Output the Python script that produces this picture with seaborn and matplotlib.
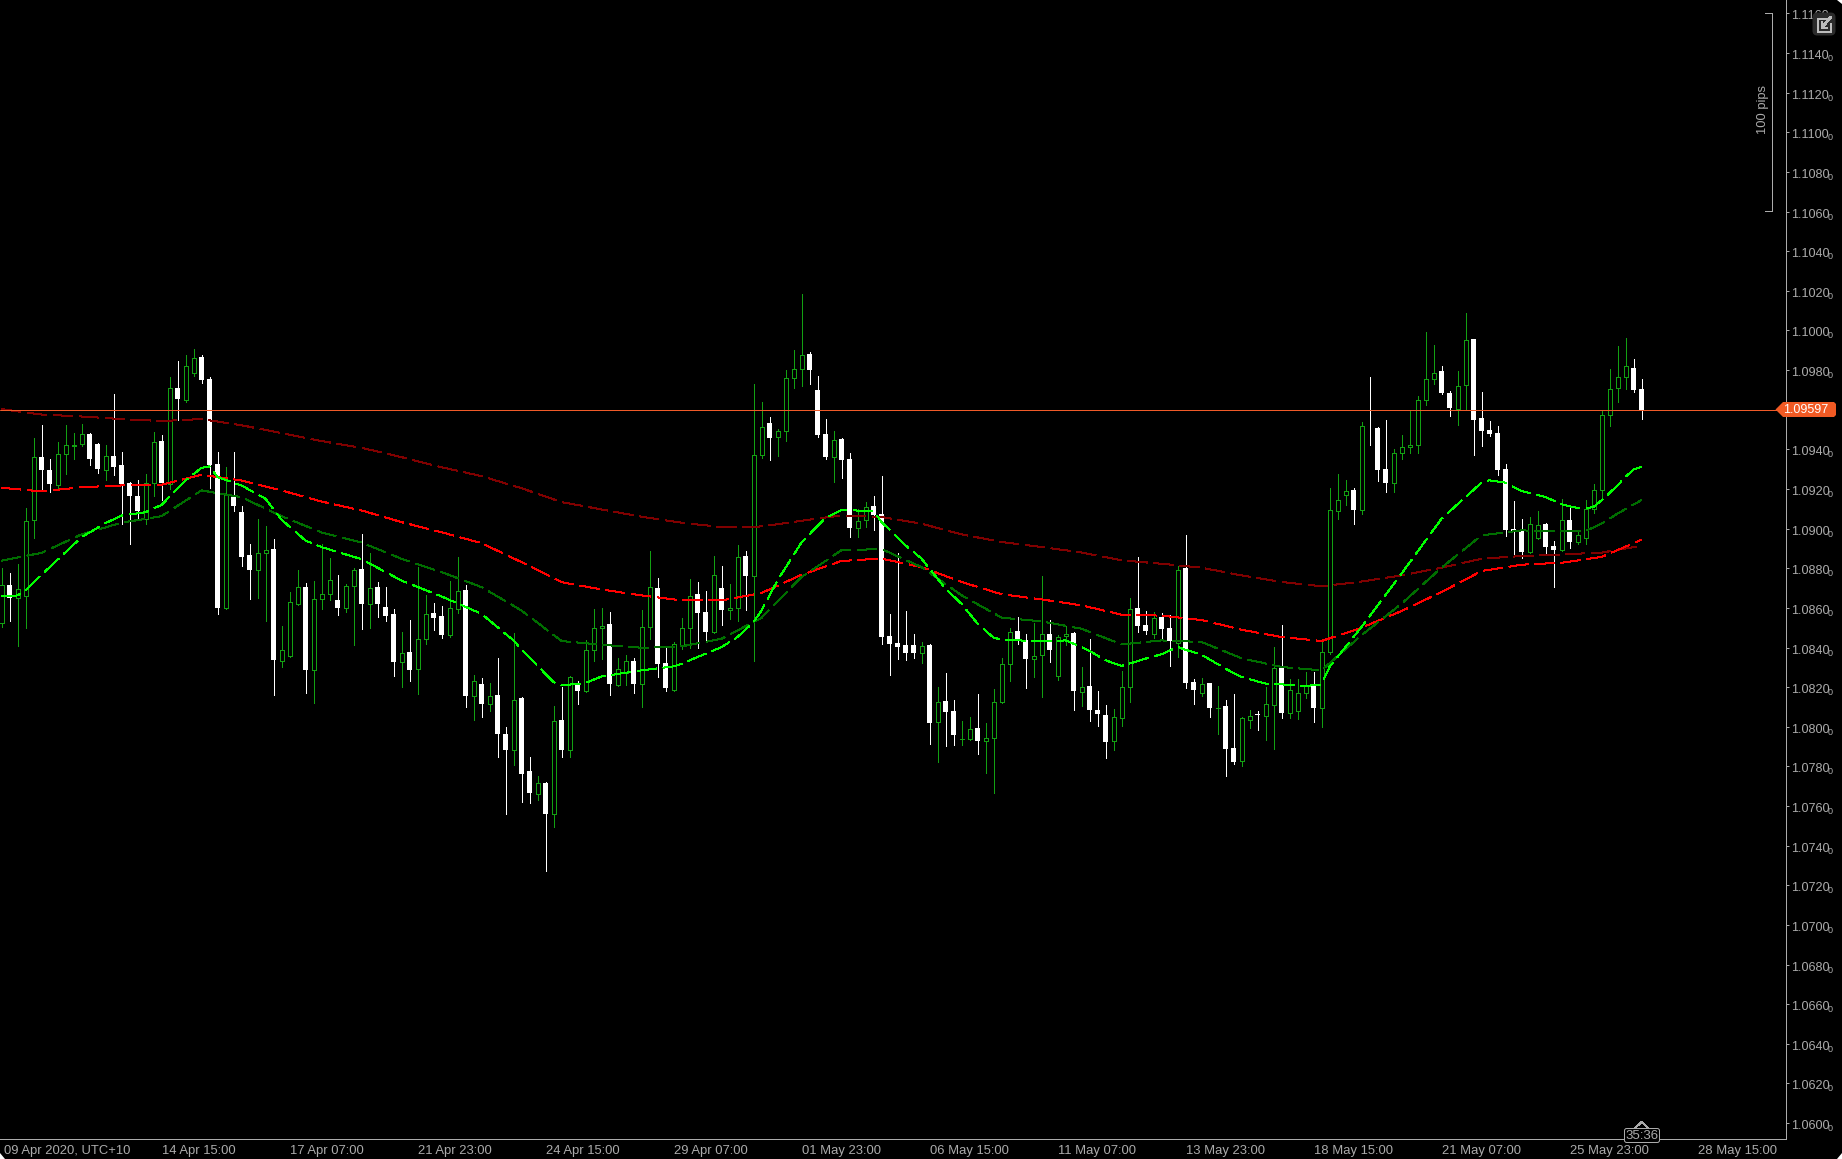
import numpy as np
import pandas as pd
import matplotlib.pyplot as plt
import seaborn as sns
from matplotlib.lines import Line2D
from matplotlib.patches import FancyBboxPatch, Polygon
from matplotlib.transforms import ScaledTranslation

# Candle values, one per bar
opens = [
    1.08523, 1.08718, 1.08649, 1.08661, 1.09043, 1.09364, 1.09294, 1.09220, 1.09376, 1.09418,
    1.09426, 1.09480, 1.09425, 1.09297, 1.09368, 1.09319, 1.09228, 1.09167, 1.09051, 1.09230,
    1.09440, 1.09226, 1.09712, 1.09648, 1.09785, 1.09864, 1.09753, 1.09324, 1.08602, 1.09167,
    1.09082, 1.08865, 1.08791, 1.08876, 1.08895, 1.08333, 1.08355, 1.08622, 1.08708, 1.08289,
    1.08644, 1.08670, 1.08638, 1.08602, 1.08710, 1.08794, 1.08622, 1.08708, 1.08607, 1.08567,
    1.08325, 1.08375, 1.08291, 1.08442, 1.08572, 1.08557, 1.08461, 1.08597, 1.08688, 1.08153,
    1.08214, 1.08115, 1.08163, 1.07962, 1.07883, 1.08143, 1.07775, 1.07661, 1.07714, 1.07558,
    1.08032, 1.07883, 1.08219, 1.08179, 1.08387, 1.08498, 1.08517, 1.08209, 1.08274, 1.08330,
    1.08216, 1.08503, 1.08703, 1.08320, 1.08184, 1.08414, 1.08498, 1.08668, 1.08577, 1.08478,
    1.08703, 1.08589, 1.08599, 1.08860, 1.08761, 1.09370, 1.09531, 1.09462, 1.09491, 1.09760,
    1.09806, 1.09880, 1.09698, 1.09476, 1.09362, 1.09451, 1.09350, 1.09003, 1.09045, 1.09113,
    1.09072, 1.08457, 1.08421, 1.08411, 1.08411, 1.08373, 1.08411, 1.08024, 1.08129, 1.08078,
    1.07938, 1.07937, 1.07992, 1.07929, 1.07944, 1.08124, 1.08317, 1.08482, 1.08436, 1.08342,
    1.08361, 1.08467, 1.08256, 1.08457, 1.08472, 1.08176, 1.08204, 1.08083, 1.08058, 1.07929,
    1.08045, 1.08201, 1.08598, 1.08512, 1.08468, 1.08553, 1.08497, 1.08423, 1.08800, 1.08225,
    1.08171, 1.08220, 1.08095, 1.08103, 1.07892, 1.07828, 1.08034, 1.08063, 1.08055, 1.08110,
    1.08300, 1.08070, 1.08080, 1.08169, 1.08204, 1.08095, 1.08376, 1.09089, 1.09169, 1.09193,
    1.09092, 1.09514, 1.09506, 1.09299, 1.09230, 1.09381, 1.09412, 1.09422, 1.09651, 1.09755,
    1.09794, 1.09683, 1.09602, 1.09725, 1.09955, 1.09557, 1.09496, 1.09481, 1.09299, 1.08996,
    1.08986, 1.08882, 1.08951, 1.09022, 1.08911, 1.08890, 1.09042, 1.08931, 1.08953, 1.09097,
    1.09197, 1.09573, 1.09710, 1.09765, 1.09809, 1.09703,
]
closes = [
    1.08717, 1.08649, 1.08696, 1.09040, 1.09363, 1.09294, 1.09223, 1.09378, 1.09423, 1.09420,
    1.09479, 1.09354, 1.09299, 1.09368, 1.09309, 1.09223, 1.09167, 1.09087, 1.09231, 1.09438,
    1.09228, 1.09711, 1.09652, 1.09822, 1.09862, 1.09748, 1.09319, 1.08602, 1.09176, 1.09112,
    1.08855, 1.08789, 1.08878, 1.08893, 1.08335, 1.08389, 1.08631, 1.08707, 1.08289, 1.08646,
    1.08671, 1.08742, 1.08602, 1.08712, 1.08792, 1.08622, 1.08702, 1.08622, 1.08557, 1.08325,
    1.08373, 1.08289, 1.08444, 1.08570, 1.08547, 1.08461, 1.08601, 1.08686, 1.08153, 1.08232,
    1.08113, 1.08157, 1.07962, 1.07881, 1.08137, 1.07760, 1.07664, 1.07718, 1.07558, 1.08031,
    1.07881, 1.08253, 1.08179, 1.08389, 1.08500, 1.08510, 1.08214, 1.08293, 1.08333, 1.08214,
    1.08505, 1.08707, 1.08315, 1.08194, 1.08419, 1.08500, 1.08661, 1.08572, 1.08476, 1.08767,
    1.08587, 1.08601, 1.08858, 1.08759, 1.09373, 1.09515, 1.09456, 1.09494, 1.09762, 1.09807,
    1.09878, 1.09799, 1.09471, 1.09360, 1.09449, 1.09345, 1.09002, 1.09040, 1.09111, 1.09067,
    1.08452, 1.08416, 1.08401, 1.08371, 1.08371, 1.08408, 1.08018, 1.08127, 1.08073, 1.07957,
    1.07940, 1.07991, 1.07927, 1.07945, 1.08127, 1.08319, 1.08480, 1.08431, 1.08341, 1.08359,
    1.08470, 1.08386, 1.08455, 1.08470, 1.08179, 1.08203, 1.08083, 1.08063, 1.07922, 1.08051,
    1.08203, 1.08596, 1.08507, 1.08482, 1.08551, 1.08492, 1.08431, 1.08793, 1.08220, 1.08184,
    1.08218, 1.08093, 1.08097, 1.07886, 1.07821, 1.08046, 1.08056, 1.08061, 1.08117, 1.08299,
    1.08068, 1.08188, 1.08172, 1.08208, 1.08093, 1.08379, 1.09095, 1.09146, 1.09191, 1.09092,
    1.09516, 1.09512, 1.09294, 1.09228, 1.09383, 1.09413, 1.09423, 1.09651, 1.09757, 1.09787,
    1.09683, 1.09607, 1.09721, 1.09954, 1.09546, 1.09491, 1.09476, 1.09294, 1.08991, 1.08981,
    1.08880, 1.09025, 1.09020, 1.08906, 1.08890, 1.09045, 1.08931, 1.08970, 1.09101, 1.09197,
    1.09575, 1.09706, 1.09767, 1.09822, 1.09698, 1.09597,
]
highs = [
    1.08802, 1.08774, 1.08823, 1.09102, 1.09460, 1.09521, 1.09354, 1.09438, 1.09521, 1.09485,
    1.09526, 1.09485, 1.09430, 1.09423, 1.09682, 1.09389, 1.09233, 1.09243, 1.09277, 1.09490,
    1.09475, 1.09763, 1.09844, 1.09874, 1.09909, 1.09874, 1.09763, 1.09389, 1.09309, 1.09389,
    1.09112, 1.08925, 1.09051, 1.09011, 1.08950, 1.08511, 1.08678, 1.08789, 1.08728, 1.08738,
    1.08924, 1.08850, 1.08764, 1.08722, 1.08799, 1.08971, 1.08875, 1.08733, 1.08708, 1.08597,
    1.08476, 1.08537, 1.08804, 1.08663, 1.08627, 1.08612, 1.08738, 1.08855, 1.08718, 1.08259,
    1.08244, 1.08222, 1.08345, 1.07997, 1.08471, 1.08148, 1.07846, 1.07750, 1.07719, 1.08103,
    1.08199, 1.08258, 1.08229, 1.08436, 1.08597, 1.08602, 1.08577, 1.08345, 1.08360, 1.08345,
    1.08587, 1.08885, 1.08749, 1.08396, 1.08426, 1.08547, 1.08744, 1.08729, 1.08683, 1.08860,
    1.08809, 1.08719, 1.08915, 1.08885, 1.09728, 1.09637, 1.09562, 1.09501, 1.09799, 1.09900,
    1.10182, 1.09890, 1.09769, 1.09552, 1.09491, 1.09456, 1.09380, 1.09097, 1.09133, 1.09163,
    1.09264, 1.08568, 1.08875, 1.08583, 1.08467, 1.08426, 1.08416, 1.08199, 1.08270, 1.08134,
    1.08028, 1.08048, 1.08164, 1.08018, 1.08189, 1.08346, 1.08497, 1.08553, 1.08467, 1.08522,
    1.08759, 1.08537, 1.08462, 1.08507, 1.08477, 1.08300, 1.08441, 1.08179, 1.08108, 1.08088,
    1.08280, 1.08648, 1.08855, 1.08583, 1.08578, 1.08573, 1.08563, 1.08810, 1.08966, 1.08240,
    1.08245, 1.08220, 1.08204, 1.08134, 1.08164, 1.08050, 1.08083, 1.08078, 1.08199, 1.08401,
    1.08512, 1.08240, 1.08240, 1.08275, 1.08275, 1.08431, 1.09203, 1.09274, 1.09243, 1.09203,
    1.09536, 1.09763, 1.09511, 1.09546, 1.09400, 1.09471, 1.09600, 1.09667, 1.09991, 1.09925,
    1.09819, 1.09693, 1.09794, 1.10086, 1.09955, 1.09688, 1.09541, 1.09516, 1.09324, 1.09138,
    1.09047, 1.09057, 1.09087, 1.09027, 1.08936, 1.09148, 1.09102, 1.08995, 1.09143, 1.09224,
    1.09600, 1.09804, 1.09920, 1.09960, 1.09854, 1.09753,
]
lows = [
    1.08506, 1.08532, 1.08407, 1.08498, 1.08952, 1.09199, 1.09186, 1.09204, 1.09275, 1.09354,
    1.09416, 1.09319, 1.09283, 1.09248, 1.09273, 1.09024, 1.08925, 1.09051, 1.09021, 1.09167,
    1.09147, 1.09198, 1.09546, 1.09638, 1.09768, 1.09733, 1.09203, 1.08567, 1.08592, 1.09087,
    1.08814, 1.08643, 1.08648, 1.08532, 1.08163, 1.08300, 1.08350, 1.08617, 1.08173, 1.08118,
    1.08592, 1.08638, 1.08562, 1.08577, 1.08411, 1.08496, 1.08501, 1.08552, 1.08532, 1.08254,
    1.08199, 1.08229, 1.08168, 1.08416, 1.08491, 1.08446, 1.08451, 1.08572, 1.08098, 1.08032,
    1.08047, 1.08078, 1.07846, 1.07558, 1.07805, 1.07618, 1.07613, 1.07629, 1.07270, 1.07492,
    1.07846, 1.07846, 1.08113, 1.08174, 1.08330, 1.08340, 1.08163, 1.08204, 1.08209, 1.08169,
    1.08098, 1.08441, 1.08249, 1.08179, 1.08179, 1.08391, 1.08396, 1.08396, 1.08426, 1.08471,
    1.08512, 1.08542, 1.08532, 1.08587, 1.08330, 1.09355, 1.09345, 1.09365, 1.09441, 1.09708,
    1.09718, 1.09728, 1.09461, 1.09350, 1.09234, 1.09254, 1.08956, 1.08956, 1.09007, 1.08991,
    1.08416, 1.08260, 1.08341, 1.08336, 1.08346, 1.08320, 1.07912, 1.07821, 1.07902, 1.07907,
    1.07907, 1.07932, 1.07861, 1.07765, 1.07664, 1.08119, 1.08230, 1.08416, 1.08194, 1.08250,
    1.08149, 1.08325, 1.08235, 1.08411, 1.08083, 1.08103, 1.08028, 1.08003, 1.07841, 1.07881,
    1.08003, 1.08124, 1.08477, 1.08467, 1.08447, 1.08441, 1.08305, 1.08351, 1.08194, 1.08114,
    1.08154, 1.08048, 1.07962, 1.07750, 1.07811, 1.07801, 1.07992, 1.07982, 1.07932, 1.07886,
    1.08043, 1.08043, 1.08038, 1.08144, 1.08023, 1.07997, 1.08366, 1.09047, 1.09117, 1.09021,
    1.09072, 1.09420, 1.09238, 1.09183, 1.09183, 1.09354, 1.09380, 1.09380, 1.09622, 1.09728,
    1.09678, 1.09567, 1.09521, 1.09602, 1.09370, 1.09415, 1.09466, 1.09269, 1.08961, 1.08870,
    1.08850, 1.08875, 1.08946, 1.08865, 1.08704, 1.08885, 1.08901, 1.08921, 1.08924, 1.09077,
    1.09143, 1.09516, 1.09637, 1.09703, 1.09688, 1.09552,
]

# Moving averages, read at bars where the curve bends
ma_bars = list(range(0, 206, 5))
ma_lime_bars = [
    0, 2, 3, 5, 8, 10, 13, 15, 18, 20, 23, 25, 26, 27, 30, 33, 35, 38, 40, 45,
    50, 55, 60, 64, 65, 69, 70, 73, 75, 80, 84, 85, 88, 90, 92, 94, 95, 97, 100, 103,
    105, 109, 110, 113, 115, 118, 120, 122, 124, 125, 130, 133, 135, 136, 138, 140, 141, 143, 145, 147,
    148, 150, 153, 155, 158, 160, 163, 165, 166, 170, 175, 180, 185, 186, 188, 190, 193, 195, 197, 198,
    199, 200, 201, 202, 203, 204, 205,
]
ma_lime = [
    1.08658, 1.08663, 1.08688, 1.08767, 1.08881, 1.08957, 1.09028, 1.09066, 1.09083, 1.09120,
    1.09243, 1.09307, 1.09315, 1.09260, 1.09218, 1.09151, 1.09045, 1.08940, 1.08907, 1.08846,
    1.08738, 1.08658, 1.08570, 1.08436, 1.08391, 1.08226, 1.08209, 1.08221, 1.08254, 1.08285,
    1.08305, 1.08318, 1.08369, 1.08402, 1.08453, 1.08528, 1.08587, 1.08739, 1.08930, 1.09055,
    1.09094, 1.09089, 1.09034, 1.08916, 1.08849, 1.08697, 1.08621, 1.08521, 1.08450, 1.08440,
    1.08431, 1.08436, 1.08403, 1.08383, 1.08336, 1.08307, 1.08319, 1.08344, 1.08366, 1.08403,
    1.08389, 1.08364, 1.08293, 1.08251, 1.08218, 1.08214, 1.08206, 1.08214, 1.08302, 1.08504,
    1.08773, 1.09050, 1.09232, 1.09244, 1.09232, 1.09190, 1.09160, 1.09123, 1.09104, 1.09102,
    1.09109, 1.09143, 1.09180, 1.09218, 1.09261, 1.09298, 1.09313,
]
ma_green_bars = ma_bars[:40] + [198, 200, 202, 205]
ma_green = [
    1.08838, 1.08878, 1.08971, 1.09030, 1.09063, 1.09193, 1.09159, 1.09063, 1.08981, 1.08930,
    1.08848, 1.08781, 1.08705, 1.08587, 1.08433, 1.08414, 1.08399, 1.08406, 1.08444, 1.08550,
    1.08756, 1.08891, 1.08897, 1.08806, 1.08664, 1.08551, 1.08532, 1.08495, 1.08416, 1.08436,
    1.08428, 1.08346, 1.08302, 1.08285, 1.08462, 1.08621, 1.08803, 1.08966, 1.08991, 1.08988,
    1.08988, 1.09025, 1.09076, 1.09144,
]
ma_red = [
    1.09206, 1.09188, 1.09209, 1.09218, 1.09221, 1.09272, 1.09243, 1.09193, 1.09137, 1.09092,
    1.09033, 1.08982, 1.08927, 1.08831, 1.08730, 1.08693, 1.08663, 1.08638, 1.08638, 1.08675,
    1.08767, 1.08837, 1.08849, 1.08806, 1.08731, 1.08669, 1.08643, 1.08613, 1.08566, 1.08561,
    1.08539, 1.08490, 1.08453, 1.08433, 1.08500, 1.08584, 1.08680, 1.08786, 1.08818, 1.08828,
    1.08857, 1.08944,
]
ma_maroon = [
    1.09603, 1.09576, 1.09566, 1.09553, 1.09543, 1.09553, 1.09522, 1.09482, 1.09442, 1.09408,
    1.09361, 1.09310, 1.09265, 1.09204, 1.09134, 1.09097, 1.09060, 1.09030, 1.09008, 1.09011,
    1.09040, 1.09067, 1.09059, 1.09025, 1.08971, 1.08933, 1.08907, 1.08880, 1.08840, 1.08823,
    1.08803, 1.08764, 1.08731, 1.08709, 1.08733, 1.08764, 1.08803, 1.08848, 1.08862, 1.08870,
    1.08879, 1.08914,
]

last_price = 1.09597
price_ticks = [1.0600, 1.0620, 1.0640, 1.0660, 1.0680, 1.0700, 1.0720, 1.0740, 1.0760, 1.0780,
               1.0800, 1.0820, 1.0840, 1.0860, 1.0880, 1.0900, 1.0920, 1.0940, 1.0960, 1.0980,
               1.1000, 1.1020, 1.1040, 1.1060, 1.1080, 1.1100, 1.1120, 1.1140, 1.1160]
hidden_tick = 1.0960  # sits under the last price tag
time_ticks = [0, 20, 36, 52, 68, 84, 100, 116, 132, 148, 164, 180, 196, 212]
time_labels = ['09 Apr 2020, UTC+10', '14 Apr 15:00', '17 Apr 07:00', '21 Apr 23:00', '24 Apr 15:00',
               '29 Apr 07:00', '01 May 23:00', '06 May 15:00', '11 May 07:00', '13 May 23:00',
               '18 May 15:00', '21 May 07:00', '25 May 23:00', '28 May 15:00']

W, H = 1842, 1159
GREY = '#ABABAB'
CANDLE_GREEN = '#12A012'
ORANGE = '#F15A24'
PX = 0.72  # one pixel in points at dpi 100

sns.set_theme(style='dark', rc={'axes.facecolor': 'black', 'figure.facecolor': 'black'})
plt.rcParams['font.family'] = ['Liberation Sans', 'DejaVu Sans']

candles = pd.DataFrame({'bar': range(len(opens)), 'open': opens, 'high': highs, 'low': lows, 'close': closes})
up = candles[candles['close'] >= candles['open']]
down = candles[candles['close'] < candles['open']]

fig = plt.figure(figsize=(W / 100, H / 100), dpi=100)
ax = fig.add_axes([0, 1 - 1138.5 / H, 1785.5 / W, 1138.5 / H])

# Wicks first, bodies on top of them
ax.vlines(up['bar'], up['low'], up['high'], color=CANDLE_GREEN, linewidth=PX, antialiased=False, zorder=2)
ax.vlines(down['bar'], down['low'], down['high'], color='white', linewidth=PX, antialiased=False, zorder=2)
ax.bar(up['bar'], up['close'] - up['open'], bottom=up['open'], width=0.5, facecolor='black',
       edgecolor=CANDLE_GREEN, linewidth=PX, antialiased=False, zorder=3)
ax.bar(down['bar'], down['close'] - down['open'], bottom=down['open'], width=0.625, color='white',
       linewidth=0, antialiased=False, zorder=3)

# Moving averages
for bars, values, colour in [(ma_bars, ma_maroon, '#800000'), (ma_bars, ma_red, '#FF0000'),
                             (ma_green_bars, ma_green, '#006E00'), (ma_lime_bars, ma_lime, '#00FF00')]:
    sns.lineplot(x=bars, y=values, color=colour, linewidth=1.4 * PX, linestyle=(0, (13.6, 4.6)),
                 dash_capstyle='butt', antialiased=False, estimator=None, legend=False, ax=ax, zorder=4)

ax.axhline(last_price, color='#F05A28', linewidth=PX, zorder=5)

ax.set_xlim(-1.5 / 8, -1.5 / 8 + 1785.5 / 8)
ax.set_ylim(1.06 - 15.4 / 19815, 1.06 + 1123.1 / 19815)
ax.grid(False)
for side in ['top', 'left']:
    ax.spines[side].set_visible(False)
for side in ['right', 'bottom']:
    ax.spines[side].set_color(GREY)
    ax.spines[side].set_linewidth(PX)

ax.yaxis.tick_right()
ax.set_yticks(price_ticks)
ax.set_yticklabels(['' if p == hidden_tick else f'{p:.4f}' for p in price_ticks])
ax.tick_params(axis='y', length=2.2, width=PX, color=GREY, labelcolor=GREY, labelsize=9.1, pad=1.5)
ax.set_xticks(time_ticks)
ax.set_xticklabels(time_labels, ha='left')
ax.tick_params(axis='x', length=2.2, width=PX, color=GREY, labelcolor=GREY, labelsize=9.4, pad=2.5)
ax.set_xlabel('')
ax.set_ylabel('')
for label in ax.get_yticklabels():
    label.set_transform(label.get_transform() + ScaledTranslation(0, -1.5 / 100, fig.dpi_scale_trans))
first = ax.get_xticklabels()[0]
first.set_transform(first.get_transform() + ScaledTranslation(2.5 / 100, 0, fig.dpi_scale_trans))
for p in price_ticks:
    if p != hidden_tick:
        ax.annotate('0', xy=(1, p), xycoords=ax.get_yaxis_transform(), xytext=(42, -8), textcoords='offset pixels',
                    color=GREY, fontsize=6.5, va='baseline', ha='left', annotation_clip=False)


# Screen furniture, placed in pixels from the top left
def fx(x):
    return x / W


def fy(y):
    return 1 - y / H


def screen_line(xs, ys, colour=GREY, width=PX):
    fig.add_artist(Line2D([fx(x) for x in xs], [fy(y) for y in ys], color=colour, linewidth=width,
                          antialiased=False, zorder=6))


def screen_poly(points, colour):
    fig.add_artist(Polygon([(fx(x), fy(y)) for x, y in points], closed=True, facecolor=colour, edgecolor='none',
                           transform=fig.transFigure, zorder=6))


# 100 pips ruler
screen_line([1765, 1771.5, 1771.5, 1765], [12.5, 12.5, 210.5, 210.5])
fig.text(fx(1763), fy(110), '100 pips', rotation=90, color=GREY, fontsize=9.3, ha='center', va='center')

# Last price tag
screen_poly([(1775.5, 409.5), (1783, 402), (1834, 402), (1836, 404), (1836, 415), (1834, 417), (1783, 417)], ORANGE)
fig.text(fx(1805.5), fy(410), '1.09597', color='white', fontsize=9, ha='center', va='center', zorder=7)

# Countdown tag on the time axis
fig.add_artist(FancyBboxPatch((fx(1624.5), fy(1142.5)), 35 / W, 14 / H, boxstyle='round,pad=0,rounding_size=0.0012',
                              transform=fig.transFigure, facecolor='black', edgecolor=GREY, linewidth=PX, zorder=6,
                              mutation_aspect=W / H))
screen_line([1635, 1641.7, 1648], [1128, 1122, 1128])
fig.text(fx(1642), fy(1136), '35:36', color=GREY, fontsize=9.5, ha='center', va='center', zorder=7)

# Pop-out button
fig.add_artist(FancyBboxPatch((fx(1813.5), fy(34.5)), 21 / W, 21 / H, boxstyle='round,pad=0,rounding_size=0.002',
                              transform=fig.transFigure, facecolor='#2B2B2B', edgecolor='#2B2B2B', linewidth=2 * PX,
                              zorder=6, mutation_aspect=W / H))
screen_line([1829, 1818, 1818, 1831, 1831], [19, 19, 32, 32, 24], colour='#BDBDBD', width=2 * PX)
screen_line([1831, 1822], [17, 27], colour='#BDBDBD', width=2 * PX)
screen_line([1822, 1822, 1827], [22, 28, 28], colour='#BDBDBD', width=2 * PX)

# Rounded window corners
screen_poly([(1837, 0), (1842, 0), (1842, 4)], 'white')
screen_poly([(0, 1153), (0, 1159), (5, 1159)], 'white')
screen_poly([(1842, 1153), (1842, 1159), (1837, 1159)], 'white')

fig.savefig('out.png', dpi=100, facecolor='black')
